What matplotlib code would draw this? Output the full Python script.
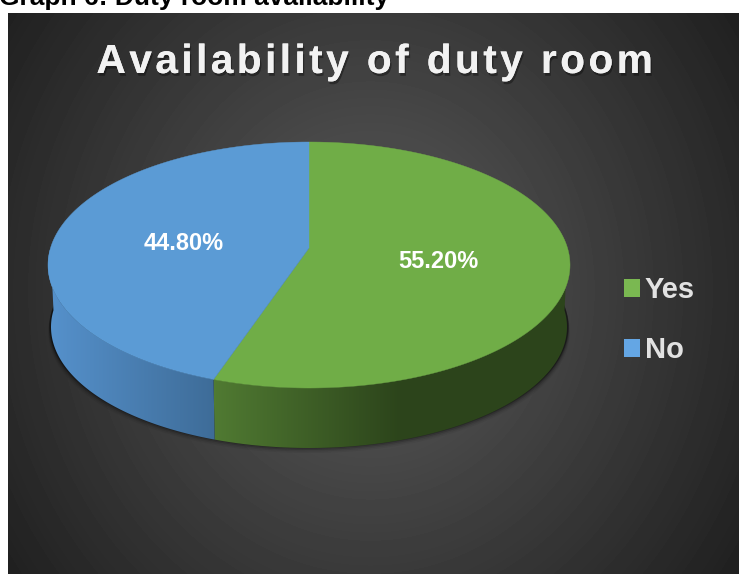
import numpy as np
import matplotlib
matplotlib.use("Agg")
import matplotlib.pyplot as plt
import matplotlib.patheffects as pe
from matplotlib.patches import Polygon, Rectangle

plt.rcParams['font.family'] = ['Liberation Sans', 'DejaVu Sans']

HEADER = "Graph 6: Duty room availability"
TITLE = "Availability of duty room"
categories = ["Yes", "No"]
values = [55.2, 44.8]
colors = ["#70AD47", "#5B9BD5"]
label_pos = [(438, 261), (184, 243)]

W, H = 739, 574
CX, CY, RX, RY = 309, 265, 261, 123   # top face of the disc
APEX_Y = 248                          # where the slices meet (perspective)
DEPTH = 63


def project(theta, cy=CY, rx=RX, ry=RY):
    # circle -> ellipse with the centre pushed up, angle clockwise from 12 o'clock
    k = (CY - APEX_Y) / RY
    x, y = np.sin(theta), np.cos(theta)
    px = x * np.sqrt(1 - k ** 2) / (1 + k * y)
    py = (y + k) / (1 + k * y)
    return CX + rx * px, cy - ry * py


fig = plt.figure(figsize=(W / 100, H / 100), dpi=100)
ax = fig.add_axes([0, 0, 1, 1])

# dark radial background
yy, xx = np.mgrid[13:H, 8:W]
r = np.sqrt(((xx - 370) / 430) ** 2 + ((yy - 290) / 480) ** 2)
bg = np.clip(92 - 58 * r, 30, 95) / 255
ax.imshow(bg, cmap="gray", vmin=0, vmax=1, extent=(8, W, H, 13), aspect="auto", zorder=0)

# shadow under the disc
t_all = np.linspace(0, 2 * np.pi, 400)
for off, a in zip([7, 5.5, 4, 2.5, 1.5], [0.05, 0.08, 0.14, 0.22, 0.32]):
    sx, sy = project(t_all, cy=CY + DEPTH - 3 + off, rx=RX - 2 + off * 0.25, ry=RY - 2)
    ax.add_patch(Polygon(np.c_[sx, sy], fc="black", ec="none", alpha=a, zorder=1))

fractions = np.cumsum([0] + values) / sum(values)
angles = fractions * 2 * np.pi

# side wall, one horizontal gradient per slice
wall_cols = [((80, 122, 50), (44, 68, 27)), ((86, 146, 205), (62, 108, 152))]
wall_x = [(215, 400), (44, 215)]
xs = np.arange(40, 580)
for i in range(2):
    t = np.linspace(max(angles[i], np.pi / 2), min(angles[i + 1], 3 * np.pi / 2), 300)
    tx, ty = project(t)
    bx, by = project(t, cy=CY + DEPTH - 1, rx=RX - 3, ry=RY - 2)
    wall = Polygon(np.r_[np.c_[tx, ty], np.c_[bx, by][::-1]], fc="none", ec="none", zorder=2)
    ax.add_patch(wall)
    x0, x1 = wall_x[i]
    f = np.clip((xs - x0) / (x1 - x0), 0, 1)[None, :, None]
    c0, c1 = np.array(wall_cols[i][0]) / 255, np.array(wall_cols[i][1]) / 255
    im = ax.imshow(c0 + (c1 - c0) * f, extent=(40, 580, 470, 250), aspect="auto", zorder=2)
    im.set_clip_path(wall)

# top face
for i in range(2):
    t = np.linspace(angles[i], angles[i + 1], 300)
    px, py = project(t)
    pts = np.r_[[[CX, APEX_Y]], np.c_[px, py]]
    ax.add_patch(Polygon(pts, fc=colors[i], ec=colors[i], lw=0.3, zorder=3))
    ax.text(label_pos[i][0], label_pos[i][1], "%.2f%%" % values[i], color="white", fontsize=17,
            fontweight="bold", ha="center", va="center", zorder=4)

# header above the chart, cut by the top edge
ax.text(-1, 5, HEADER, color="black", fontsize=19, fontweight="bold", ha="left", va="baseline", zorder=5)

# title, hair spaces give the letter spacing
spaced = "\u200a".join(TITLE)
ax.text(375, 62, spaced, color="#F2F2F2", fontsize=29.3, fontweight="bold", ha="center", va="center", zorder=5,
        path_effects=[pe.withSimplePatchShadow(offset=(1, -2), shadow_rgbFace="black", alpha=0.35), pe.Normal()])

# legend
handles = [Rectangle((0, 0), 1, 1, fc=c, ec="none") for c in ["#7AB851", "#64A6E4"]]
leg = ax.legend(handles, categories, loc="upper left", bbox_to_anchor=(598 / W, 1 - 250 / H), frameon=False,
                labelcolor="#E2E2E2", handlelength=0.55, handleheight=0.55, handletextpad=0.15,
                labelspacing=1.1, prop={"size": 21, "weight": "bold"})
leg.set_zorder(5)

ax.set_xlim(0, W)
ax.set_ylim(H, 0)
ax.axis("off")

fig.savefig("out.png", dpi=100)
